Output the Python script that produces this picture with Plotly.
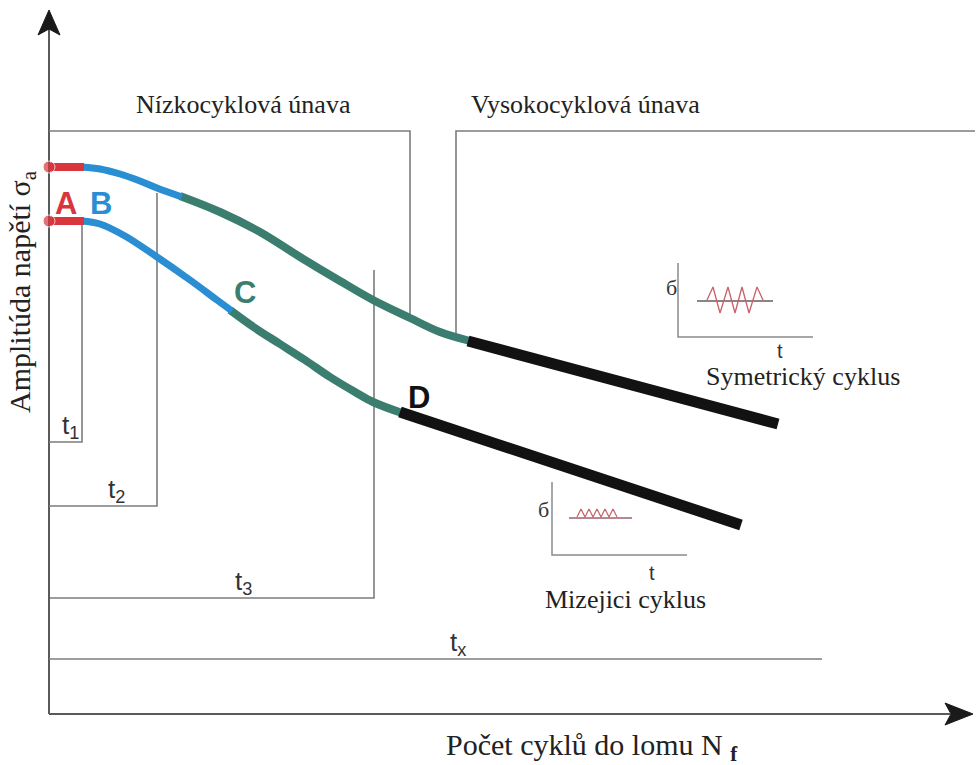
"""
Schéma únavové křivky (Wöhler): nízkocyklová vs. vysokocyklová únava.
Souřadnice jsou v jednotkách diagramu (osa y roste dolů).
"""
import plotly.graph_objects as go

# --- barvy ---
RED = '#d8363c'
BLUE = '#2a8ed2'
TEAL = '#3b7d6e'
BLACK = '#121212'
FRAME = '#7c7c7c'
AXIS = '#5a5a5a'
WAVE = '#c8606a'

# --- osy diagramu ---
y_axis_x = [49, 49]
y_axis_y = [714, 28]
x_axis_x = [49, 950]
x_axis_y = [714, 714]
y_arrow_x = [49, 60, 49, 38, 49]
y_arrow_y = [10, 35, 29, 35, 10]
x_arrow_x = [973, 945, 951, 945, 973]
x_arrow_y = [714, 703, 714, 725, 714]

# --- rámy oblastí a časů ---
low_box_x = [49, 410, 410]
low_box_y = [131, 131, 315]
high_box_x = [975, 456, 456]
high_box_y = [131, 131, 333]
t1_x = [82, 82, 49]
t1_y = [222, 442, 442]
t2_x = [157, 157, 49]
t2_y = [193, 506, 506]
t3_x = [374, 374, 50]
t3_y = [270, 598, 598]
tx_x = [49, 822]
tx_y = [659, 659]

# --- křivky ---
red_x = [49, 84]
red_top_y = [167, 167]
red_bot_y = [221, 221]
upper_blue_x = [82, 100, 120, 140, 157, 182]
upper_blue_y = [167, 169, 174, 181, 188, 197]
upper_teal_x = [180, 220, 260, 300, 340, 373, 410, 440, 470]
upper_teal_y = [196, 212, 232, 257, 281, 300, 318, 332, 341]
upper_black_x = [468, 778]
upper_black_y = [341, 424]
lower_blue_x = [82, 100, 125, 157, 190, 217, 232]
lower_blue_y = [221, 224, 236, 257, 280, 300, 311]
lower_teal_x = [230, 255, 280, 305, 330, 355, 373, 402]
lower_teal_y = [310, 328, 344, 360, 377, 392, 402, 413]
lower_black_x = [400, 741]
lower_black_y = [412, 525]

# --- vložené grafy cyklů ---
sym_axis_x = [678, 678, 813]
sym_axis_y = [263, 337, 337]
sym_mean_x = [697, 773]
sym_mean_y = [301, 301]
sym_wave_x = [707, 713, 720, 728, 735, 742, 749, 757, 763]
sym_wave_y = [300, 287, 313, 287, 313, 287, 313, 287, 300]
miz_axis_x = [552, 552, 687]
miz_axis_y = [482, 555, 555]
miz_mean_x = [569, 632]
miz_mean_y = [518, 518]
miz_wave_x = [577, 581, 585, 589, 593, 597, 601, 605, 609, 613, 617]
miz_wave_y = [517, 509, 517, 509, 517, 509, 517, 509, 517, 509, 517]

fig = go.Figure()


def line(x, y, color, width, shape='linear'):
    fig.add_trace(go.Scatter(
        x=x, y=y, mode='lines', hoverinfo='skip',
        line=dict(color=color, width=width, shape=shape)
    ))


def arrow(x, y):
    fig.add_trace(go.Scatter(
        x=x, y=y, mode='lines', fill='toself', fillcolor='#1a1a1a',
        line=dict(color='#1a1a1a', width=1), hoverinfo='skip'
    ))


# osy
line(y_axis_x, y_axis_y, AXIS, 2)
line(x_axis_x, x_axis_y, AXIS, 2)
arrow(y_arrow_x, y_arrow_y)
arrow(x_arrow_x, x_arrow_y)

# rámy
for bx, by in [(low_box_x, low_box_y), (high_box_x, high_box_y),
               (t1_x, t1_y), (t2_x, t2_y), (t3_x, t3_y), (tx_x, tx_y)]:
    line(bx, by, FRAME, 1.6)

# křivky
line(upper_teal_x, upper_teal_y, TEAL, 8, 'spline')
line(lower_teal_x, lower_teal_y, TEAL, 8, 'spline')
line(upper_blue_x, upper_blue_y, BLUE, 7, 'spline')
line(lower_blue_x, lower_blue_y, BLUE, 7, 'spline')
line(upper_black_x, upper_black_y, BLACK, 11)
line(lower_black_x, lower_black_y, BLACK, 11)
for ry in (red_top_y, red_bot_y):
    fig.add_trace(go.Scatter(
        x=red_x, y=ry, mode='lines+markers', hoverinfo='skip',
        line=dict(color=RED, width=8),
        marker=dict(color=RED, size=[12, 0])
    ))

# vložené grafy
line(sym_axis_x, sym_axis_y, '#8a8a8a', 1.5)
line(sym_mean_x, sym_mean_y, '#6a5a5a', 1.5)
line(sym_wave_x, sym_wave_y, WAVE, 1.3)
line(miz_axis_x, miz_axis_y, '#8a8a8a', 1.5)
line(miz_mean_x, miz_mean_y, '#a0606a', 1.5)
line(miz_wave_x, miz_wave_y, WAVE, 1.2)

SERIF = 'Liberation Serif, Times New Roman, serif'
SANS = 'Liberation Sans, Arial, sans-serif'


def text(x, y, s, size, color='#222', family=SERIF, angle=0):
    fig.add_annotation(x=x, y=y, text=s, showarrow=False, textangle=angle,
                       font=dict(family=family, size=size, color=color),
                       xanchor='center', yanchor='middle')


text(243, 104, 'Nízkocyklová únava', 26)
text(585, 104, 'Vysokocyklová únava', 26)
text(22, 292, 'Amplitúda napětí σ<sub>a</sub>', 30, angle=-90)
text(592, 747, 'Počet cyklů do lomu N <sub><b>f</b></sub>', 30)
text(803, 376, 'Symetrický cyklus', 26)
text(625, 599, 'Mizejici cyklus', 26)
text(671, 287, 'б', 22, '#333')
text(543, 509, 'б', 22, '#333')
text(780, 351, 't', 20, '#333', SANS)
text(652, 573, 't', 20, '#333', SANS)

text(70, 426, 't<sub>1</sub>', 26, '#333', SANS)
text(116, 490, 't<sub>2</sub>', 26, '#333', SANS)
text(243, 582, 't<sub>3</sub>', 26, '#333', SANS)
text(458, 643, 't<sub>x</sub>', 26, '#333', SANS)

text(66, 203, '<b>A</b>', 31, RED, SANS)
text(101, 203, '<b>B</b>', 31, BLUE, SANS)
text(245, 292, '<b>C</b>', 31, TEAL, SANS)
text(419, 397, '<b>D</b>', 31, BLACK, SANS)

fig.update_layout(
    width=977, height=765,
    margin=dict(l=0, r=0, t=0, b=0),
    paper_bgcolor='white', plot_bgcolor='white',
    showlegend=False,
    xaxis=dict(range=[0, 977], visible=False, fixedrange=True),
    yaxis=dict(range=[765, 0], visible=False, fixedrange=True),
)

fig.write_html("out.html", config={'displayModeBar': False},
               post_script="document.body.style.margin='0';")
